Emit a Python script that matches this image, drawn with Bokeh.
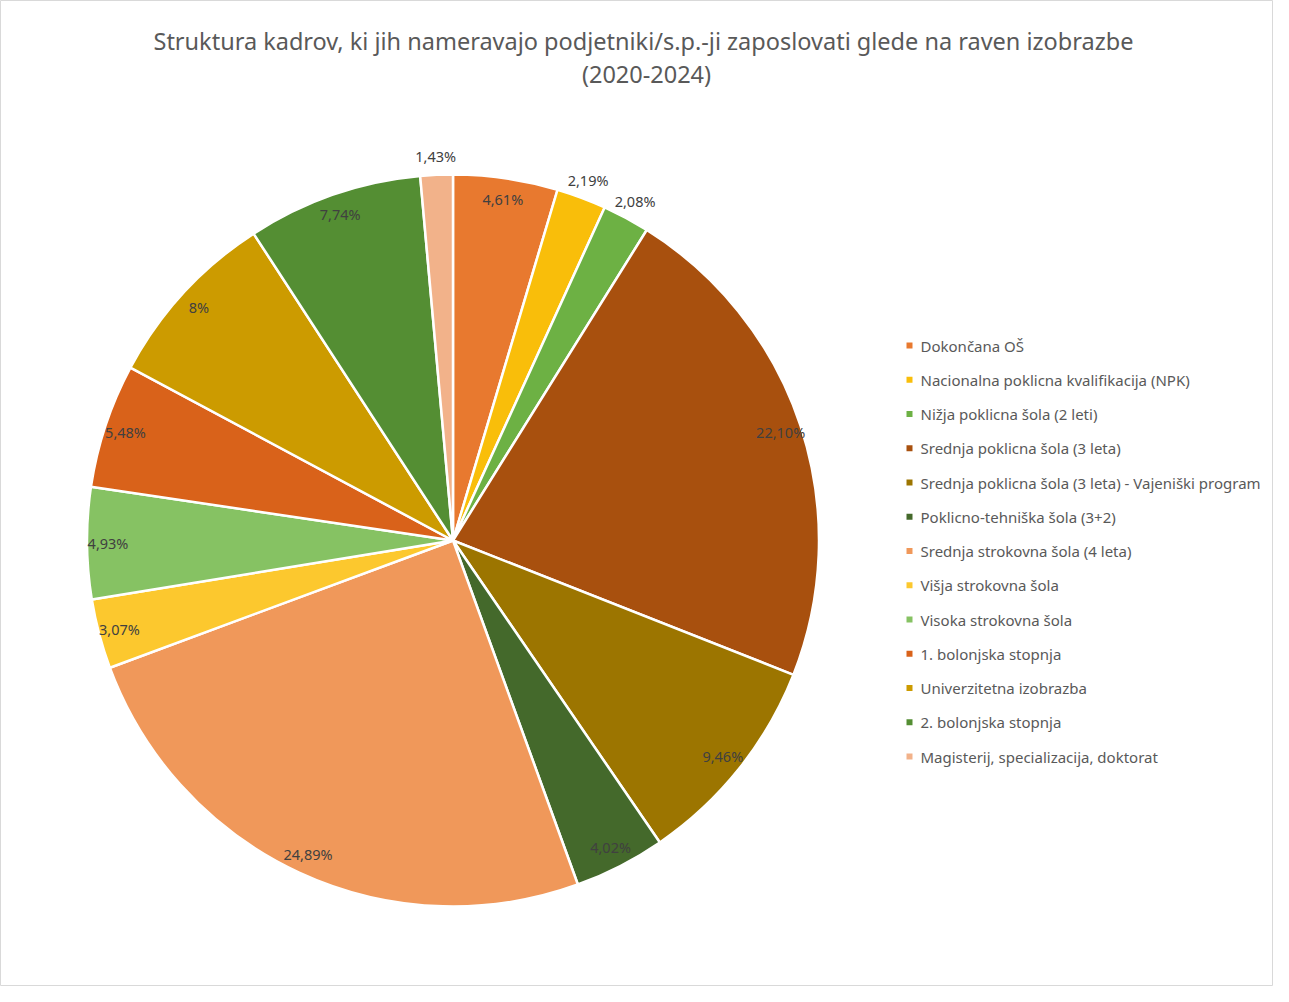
import math
from bokeh.plotting import figure
from bokeh.models import Range1d, ColumnDataSource
from bokeh.core.properties import value
from bokeh.embed import file_html
from bokeh.resources import INLINE

categories = [
    "Dokončana OŠ",
    "Nacionalna poklicna kvalifikacija (NPK)",
    "Nižja poklicna šola (2 leti)",
    "Srednja poklicna šola (3 leta)",
    "Srednja poklicna šola (3 leta) - Vajeniški program",
    "Poklicno-tehniška šola (3+2)",
    "Srednja strokovna šola (4 leta)",
    "Višja strokovna šola",
    "Visoka strokovna šola",
    "1. bolonjska stopnja",
    "Univerzitetna izobrazba",
    "2. bolonjska stopnja",
    "Magisterij, specializacija, doktorat",
]
shares = [4.61, 2.19, 2.08, 22.10, 9.46, 4.02, 24.89, 3.07, 4.93, 5.48, 8.00, 7.74, 1.43]
labels = ["4,61%", "2,19%", "2,08%", "22,10%", "9,46%", "4,02%", "24,89%",
          "3,07%", "4,93%", "5,48%", "8%", "7,74%", "1,43%"]
colors = ["#E8792F", "#F9BE0A", "#6DB144", "#A8500E", "#9C7500", "#44692B",
          "#F0985A", "#FCC82E", "#86C263", "#D9621A", "#CC9B00", "#548E33", "#F2B28A"]
title_lines = ["Struktura kadrov, ki jih nameravajo podjetniki/s.p.-ji  zaposlovati glede na raven izobrazbe",
               "(2020-2024)"]

W, H = 1273, 986
p = figure(width=W, height=H, output_backend="svg", toolbar_location=None,
           x_range=Range1d(0, W), y_range=Range1d(0, H), min_border=0)
p.axis.visible = False
p.grid.visible = False
p.outline_line_color = "#D9D9D9"
p.background_fill_color = "white"

def Y(y_page):
    return H - y_page

cx, cy, R = 452.5, Y(540), 366
total = sum(shares)
starts, ends, lx, ly = [], [], [], []
cum = 0.0
for v in shares:
    a0 = cum / total
    cum += v
    a1 = cum / total
    starts.append(math.pi / 2 - a0 * 2 * math.pi)
    ends.append(math.pi / 2 - a1 * 2 * math.pi)
    mid = (a0 + a1) / 2 * 2 * math.pi
    r = 385 if v < 2.5 else 345
    lx.append(cx + r * math.sin(mid))
    ly.append(cy + r * math.cos(mid))

src = ColumnDataSource(dict(start=starts, end=ends, color=colors, lx=lx, ly=ly, lab=labels))
p.wedge(x=cx, y=cy, radius=R, start_angle="start", end_angle="end", direction="clock",
        fill_color="color", line_color="white", line_width=2.5, source=src)
p.text(x="lx", y="ly", text="lab", source=src, text_align="center", text_baseline="middle",
       text_font=value("Noto Sans"), text_font_size="14.5px", text_color="#404040")

# title
p.text(x=[646, 646], y=[Y(40), Y(73)], text=title_lines, text_align="center",
       text_baseline="middle", text_font=value("Noto Sans"), text_font_size="23.5px",
       text_color="#595959")

# legend
ly0, dy = 345, 34.25
leg_y = [Y(ly0 + i * dy) for i in range(len(categories))]
p.scatter(x=[909] * len(categories), y=leg_y, marker="square", size=6,
          fill_color=colors, line_color=None)
p.text(x=[920] * len(categories), y=leg_y, text=categories, text_align="left",
       text_baseline="middle", text_font=value("Noto Sans"), text_font_size="15px",
       text_color="#595959")

open("out.html", "w").write(file_html(p, INLINE))
